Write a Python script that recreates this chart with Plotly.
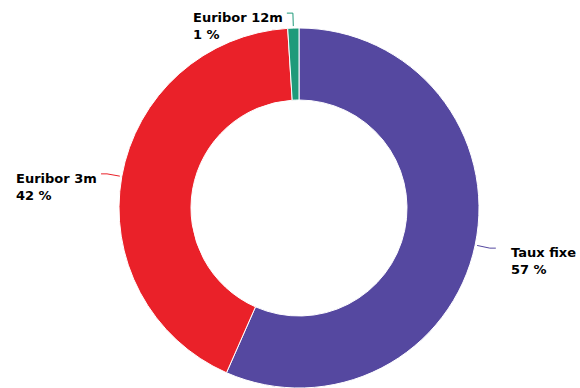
import math
import plotly.graph_objects as go

labels = ["Taux fixe", "Euribor 3m", "Euribor 12m"]
values = [56.6, 42.4, 1.0]
colors = ["#5548a0", "#ea2129", "#1f9a7a"]

W, H = 580, 388
cx, cy, R = 299, 208, 180

fig = go.Figure(go.Pie(
    labels=labels, values=values, hole=0.6, sort=False,
    direction="clockwise", rotation=0,
    marker=dict(colors=colors, line=dict(color="white", width=1)),
    textinfo="none", hoverinfo="label+percent", showlegend=False,
    domain=dict(x=[(cx - R) / W, (cx + R) / W], y=[0, 2 * R / H]),
))

total = sum(values)
cum = 0.0
annotations, shapes = [], []
for lab, v, col in zip(labels, values, colors):
    mid = (cum + v / 2) / total * 2 * math.pi
    cum += v
    sx, sy = math.sin(mid), -math.cos(mid)
    p0 = (cx + (R + 2) * sx, cy + (R + 2) * sy)
    p1 = (cx + (R + 15) * sx, cy + (R + 15) * sy)
    side = 1 if sx >= 0 else -1
    p2 = (p1[0] + side * 6, p1[1])
    path = "M {:.4f},{:.4f} L {:.4f},{:.4f} L {:.4f},{:.4f}".format(
        p0[0] / W, 1 - p0[1] / H, p1[0] / W, 1 - p1[1] / H, p2[0] / W, 1 - p2[1] / H)
    shapes.append(dict(type="path", xref="paper", yref="paper", path=path,
                       line=dict(color=col, width=1)))
    pct = round(v / total * 100)
    annotations.append(dict(
        xref="paper", yref="paper",
        x=(p2[0] + side * (13 if side > 0 else 2)) / W, y=1 - (p2[1] - 5) / H,
        xanchor="left" if side > 0 else "right", yanchor="top", align="left",
        text="<b>{}</b><br><b>{} %</b>".format(lab, pct), showarrow=False,
        font=dict(family="DejaVu Sans", size=13, color="#000000"),
    ))

fig.update_layout(
    width=W, height=H, margin=dict(l=0, r=0, t=0, b=0),
    paper_bgcolor="white", plot_bgcolor="white",
    annotations=annotations, shapes=shapes,
)
fig.write_html("out.html")
